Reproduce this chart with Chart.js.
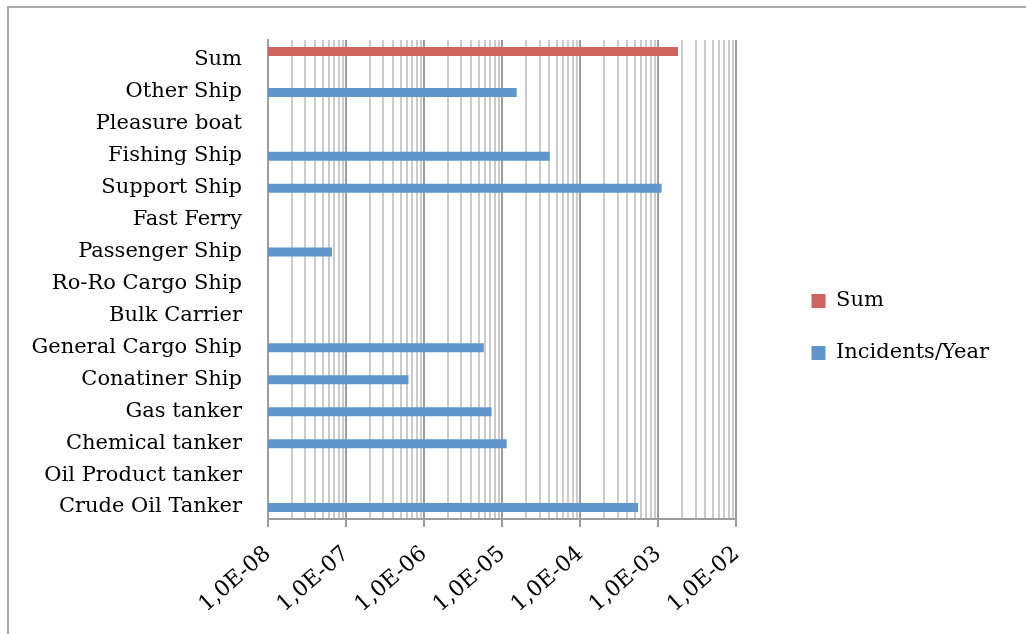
<!DOCTYPE html>
<html>
<head>
<meta charset="utf-8">
<script src="https://cdn.jsdelivr.net/npm/chart.js@4/dist/chart.umd.min.js"></script>
<style>
  html, body { margin: 0; padding: 0; background: #fff; overflow: hidden; }
  #frame {
    position: absolute; left: 7px; top: 6px;
    width: 1100px; height: 700px;
    border: 2px solid #a9a9a9;
  }
  #wrap { position: absolute; left: 0; top: 0; width: 1026px; height: 634px; }
</style>
</head>
<body>
<div id="frame"></div>
<div id="wrap"><canvas id="chart"></canvas></div>
<script>
// categories, top to bottom
const shipTypes = [
  'Sum', 'Other Ship', 'Pleasure boat', 'Fishing Ship', 'Support Ship',
  'Fast Ferry', 'Passenger Ship', 'Ro-Ro Cargo Ship', 'Bulk Carrier',
  'General Cargo Ship', 'Conatiner Ship', 'Gas tanker', 'Chemical tanker',
  'Oil Product tanker', 'Crude Oil Tanker'
];

// series values (incidents per year), null = no bar
const sumValues = [1.78e-3, null, null, null, null, null, null, null, null, null, null, null, null, null, null];
const incidentValues = [null, 1.53e-5, null, 4.06e-5, 1.10e-3, null, 6.6e-8, null, null, 5.8e-6, 6.3e-7, 7.3e-6, 1.14e-5, null, 5.5e-4];

// axis range (decades)
const minExp = -8;
const maxExp = -2;

const FONT = "'DejaVu Serif', serif";

function isDecade(v) {
  const l = Math.log10(v);
  return Math.abs(l - Math.round(l)) < 1e-9;
}

function fmtTick(v) {
  const e = Math.round(Math.log10(v));
  const s = String(Math.abs(e)).padStart(2, '0');
  return '1,0E' + (e < 0 ? '-' : '+') + s;
}

const ctx = document.getElementById('chart').getContext('2d');

new Chart(ctx, {
  type: 'bar',
  data: {
    labels: shipTypes,
    datasets: [
      {
        label: 'Sum',
        data: sumValues,
        backgroundColor: '#cd645e',
        borderWidth: 0,
      },
      {
        label: 'Incidents/Year',
        data: incidentValues,
        backgroundColor: '#6196cd',
        borderWidth: 0,
      },
    ],
  },
  options: {
    indexAxis: 'y',
    responsive: true,
    maintainAspectRatio: false,
    animation: false,
    categoryPercentage: 0.564,
    barPercentage: 1,
    layout: { padding: { top: 40, left: 10, right: 27, bottom: 20 } },
    plugins: {
      tooltip: { enabled: false },
      legend: {
        position: 'right',
        maxWidth: 320,
        labels: {
          color: '#000',
          font: { family: FONT, size: 21 },
          boxWidth: 14,
          boxHeight: 14,
          padding: 31,
        },
      },
    },
    scales: {
      x: {
        type: 'logarithmic',
        min: Math.pow(10, minExp),
        max: Math.pow(10, maxExp),
        afterBuildTicks: (scale) => {
          const ticks = [];
          for (let e = minExp; e < maxExp; e++) {
            for (let m = 1; m <= 9; m++) ticks.push({ value: Number(m + 'e' + e) });
          }
          ticks.push({ value: Number('1e' + maxExp) });
          scale.ticks = ticks;
        },
        afterFit: (scale) => { scale.height = 95; },
        grid: {
          color: (c) => (c.tick && isDecade(c.tick.value)) ? '#9c9c9c' : '#cbcbcb',
          tickColor: (c) => (c.tick && isDecade(c.tick.value)) ? '#9c9c9c' : 'rgba(0,0,0,0)',
          tickLength: 8,
          lineWidth: 2,
        },
        border: { color: '#9c9c9c', width: 2 },
        ticks: {
          autoSkip: false,
          minRotation: 41,
          maxRotation: 41,
          padding: 14,
          color: '#000',
          font: { family: FONT, size: 22 },
          callback: (v) => isDecade(v) ? fmtTick(v) : '',
        },
      },
      y: {
        afterFit: (scale) => { scale.width = 258; },
        grid: { display: false, drawTicks: false },
        border: { color: '#9c9c9c', width: 2 },
        ticks: {
          autoSkip: false,
          padding: 26,
          labelOffset: 4,
          color: '#000',
          font: { family: FONT, size: 21 },
        },
      },
      // empty spacer between plot and legend
      gap: {
        type: 'linear',
        position: 'right',
        grid: { display: false },
        border: { display: false },
        ticks: { display: false },
        afterFit: (scale) => { scale.width = 44; },
      },
    },
  },
});
</script>
</body>
</html>
